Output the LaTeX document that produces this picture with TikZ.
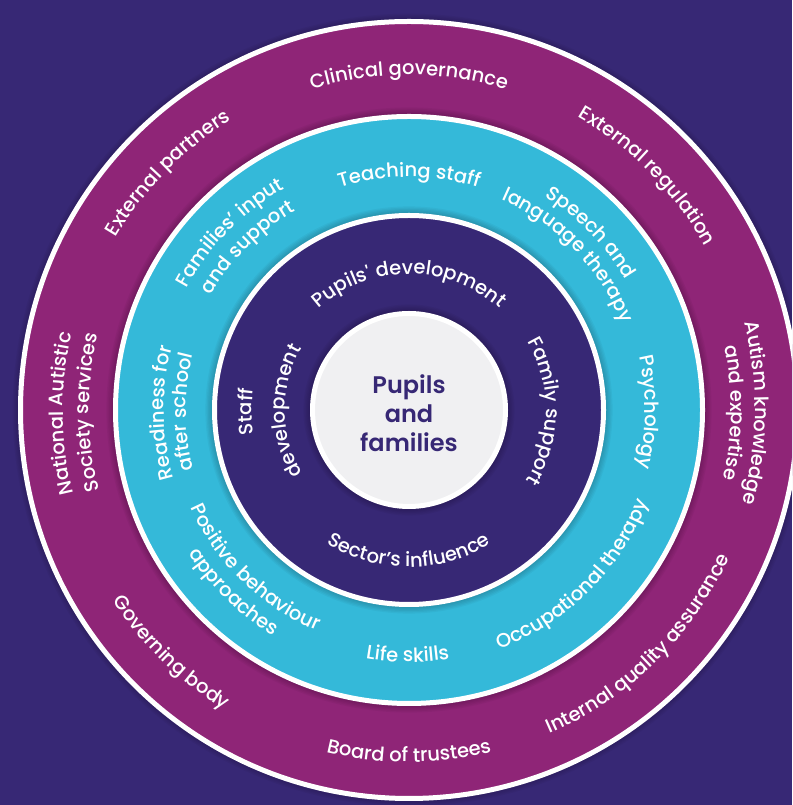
\documentclass[tikz,border=0pt]{standalone}
\usepackage{fontspec}
\setmainfont{Poppins}
\IfFontExistsTF{Poppins Medium}
  {\newfontfamily\ringfam{Poppins Medium}}
  {\newfontfamily\ringfam{Poppins}}
\IfFontExistsTF{Poppins SemiBold}
  {\newfontfamily\corefam{Poppins SemiBold}}
  {\newcommand\corefam{\bfseries}}
\usetikzlibrary{decorations.text}

\definecolor{bgpurple}{HTML}{372875}
\definecolor{ringmag}{HTML}{8F2577}
\definecolor{ringcyan}{HTML}{34B9D9}
\definecolor{coregrey}{HTML}{F0F0F2}
\definecolor{coreedge}{HTML}{D3D3DA}

\pgfdeclareradialshading{coreshade}{\pgfpoint{0bp}{0bp}}{%
  color(0bp)=(coregrey); color(40bp)=(coregrey); color(50bp)=(coreedge)}

\newcommand\ringfont{\ringfam\fontsize{19.5}{22}\selectfont}

\tikzset{
  ringtext/.style={decorate, decoration={text along path,
      text={|\ringfont|#1}, text align=center, text color=white}},
  disc/.style={draw=white, line width=5pt},
  softshadow/.style={fill=black, opacity=0.035},
}

% label running clockwise (letters face outward): radius, centre angle, text
\newcommand\arccw[3]{%
  \path[ringtext={#3}] ([shift={(#2+85:#1)}]C)
    arc[start angle={#2+85}, end angle={#2-85}, radius=#1];}
% label running anticlockwise (letters face the centre)
\newcommand\arcccw[3]{%
  \path[ringtext={#3}] ([shift={(#2-85:#1)}]C)
    arc[start angle={#2-85}, end angle={#2+85}, radius=#1];}

\begin{document}
\begin{tikzpicture}[x=1pt, y=1pt]
  \useasboundingbox (0,0) rectangle (792,805);
  \clip (0,0) rectangle (792,805);
  \fill[bgpurple] (0,0) rectangle (792,805);
  \coordinate (C) at (409,395);

  % outer ring: governance and partners
  \foreach \k in {1,...,6} \fill[softshadow] (C) circle[radius=388.5+\k*1.3];
  \fill[ringmag, disc] (C) circle[radius=388.5];

  % middle ring: specialist support
  \foreach \k in {1,...,7} \fill[softshadow] (C) circle[radius=293.5+\k*1.3];
  \fill[ringcyan, disc] (C) circle[radius=293.5];

  % inner ring
  \foreach \k in {1,...,7} \fill[softshadow] (C) circle[radius=194.5+\k*1.3];
  \fill[bgpurple, disc] (C) circle[radius=194.5];

  % core
  \foreach \k in {1,...,7} \fill[softshadow] (C) circle[radius=96.5+\k*1.3];
  \path[shading=coreshade] (C) circle[radius=96.5];
  \draw[white, line width=5pt] (C) circle[radius=96.5];

  \node[text=bgpurple, font=\corefam\fontsize{24}{29}\selectfont, align=center]
    (core) at ([yshift=-3]C) {Pupils\\and\\families};

  % outer ring labels
  \arccw{335}{90}{Clinical governance}
  \arccw{340}{135.5}{External partners}
  \arccw{338}{44.5}{External regulation}
  \arccw{346}{-0.5}{Autism knowledge}
  \arccw{322}{-0.5}{and expertise}
  \arccw{346}{180.6}{National Autistic}
  \arccw{320}{180.4}{Society services}
  \arcccw{353}{-45.6}{Internal quality assurance}
  \arcccw{352}{-90}{Board of trustees}
  \arcccw{352}{-134.4}{Governing body}

  % middle ring labels
  \arccw{233}{90}{Teaching staff}
  \arccw{254}{135.3}{Families’ input}
  \arccw{229}{134.8}{and support}
  \arccw{253}{44.3}{Speech and}
  \arccw{230}{44.2}{language therapy}
  \arccw{236}{-0.6}{Psychology}
  \arccw{245}{180.7}{Readiness for}
  \arccw{223}{180.5}{after school}
  \arcccw{256}{-45.2}{Occupational therapy}
  \arcccw{252}{-90.3}{Life skills}
  \arcccw{239}{-134.3}{Positive behaviour}
  \arcccw{263}{-134}{approaches}

  % inner ring labels
  \arccw{136}{90}{Pupils' development}
  \arccw{137}{-0.6}{Family support}
  \arcccw{157}{-90}{Sector’s influence}
  \arccw{157}{180.6}{Staff}
  \arccw{124}{180.5}{development}
\end{tikzpicture}
\end{document}
